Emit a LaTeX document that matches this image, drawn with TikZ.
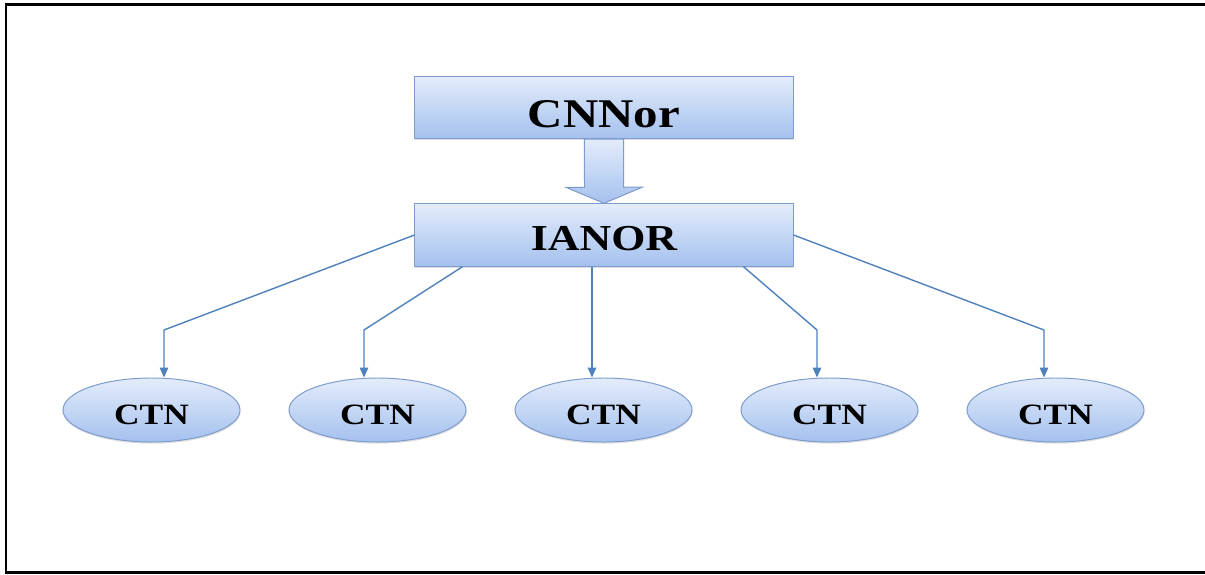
\documentclass[tikz,border=0pt]{standalone}
\usepackage{fontspec}
\setmainfont[FakeStretch=1.2]{Liberation Serif}
\usepackage{tikz}
\usetikzlibrary{shapes.geometric, arrows.meta, shadows}
\definecolor{boxtop}{RGB}{228,236,251}
\definecolor{boxbottom}{RGB}{164,193,238}
\definecolor{edge}{RGB}{125,155,205}
\definecolor{linkblue}{RGB}{79,129,189}
\tikzset{
    panel/.style={rectangle, minimum width=9.45cm, minimum height=1.56cm, text centered, draw=edge, line width=0.7pt, top color=boxtop, bottom color=boxbottom, drop shadow={shadow xshift=0.3pt, shadow yshift=-1.2pt, opacity=0.25}},
    unit/.style={ellipse, minimum width=4.425cm, minimum height=1.6cm, inner sep=0pt, text centered, draw=edge, line width=0.7pt, top color=boxtop, bottom color=boxbottom, drop shadow={shadow xshift=0.3pt, shadow yshift=-1.2pt, opacity=0.25}, font=\fontsize{21}{24}\selectfont\bfseries, text height=20.3pt, text depth=0pt},
    link/.style={-{Triangle[length=7pt, width=6pt]}, line width=1pt, draw=linkblue}
}

\begin{document}
\begin{tikzpicture}[x=0.025cm, y=-0.025cm]
    \useasboundingbox (0,0) rectangle (1205,574);
    % Frame
    \draw[line width=2.1pt] (6,4.5) rectangle (1212,572.5);

    % Upper tier
    \node[panel, font=\fontsize{29}{33}\selectfont\bfseries, text height=28.4pt, text depth=0pt] (cnnor) at (604,107.5) {CNNor};
    \node[panel, font=\fontsize{26}{30}\selectfont\bfseries, text height=22.2pt, text depth=0pt] (ianor) at (604,235) {IANOR};

    % Hollow arrow
    \filldraw[draw=edge, line width=0.7pt, top color=boxtop, bottom color=boxbottom]
        ([xshift=-0.49cm]cnnor.south) -- ([xshift=0.49cm]cnnor.south) -- ++(0,48) -- ++(18.5,0)
        -- (ianor.north) -- ++(-38,-16) -- ++(18.5,0) -- cycle;

    % CTN row
    \foreach \i in {1,...,5}
        \node[unit] (ctn\i) at ({151.5+226*(\i-1)},410) {CTN};

    % Bends
    \coordinate (k1) at (164,330);
    \coordinate (k2) at (364,330);
    \coordinate (k3) at (592,330);
    \coordinate (k4) at (817,330);
    \coordinate (k5) at (1044,330);

    % Connections
    \draw[link] (ianor.west) -- (k1) -- (k1 |- ctn1.north);
    \draw[link] ([xshift=1.2cm]ianor.south west) -- (k2) -- (k2 |- ctn2.north);
    \draw[link] (k3 |- ianor.south) -- (k3 |- ctn3.north);
    \draw[link] ([xshift=-1.25cm]ianor.south east) -- (k4) -- (k4 |- ctn4.north);
    \draw[link] (ianor.east) -- (k5) -- (k5 |- ctn5.north);
\end{tikzpicture}
\end{document}
